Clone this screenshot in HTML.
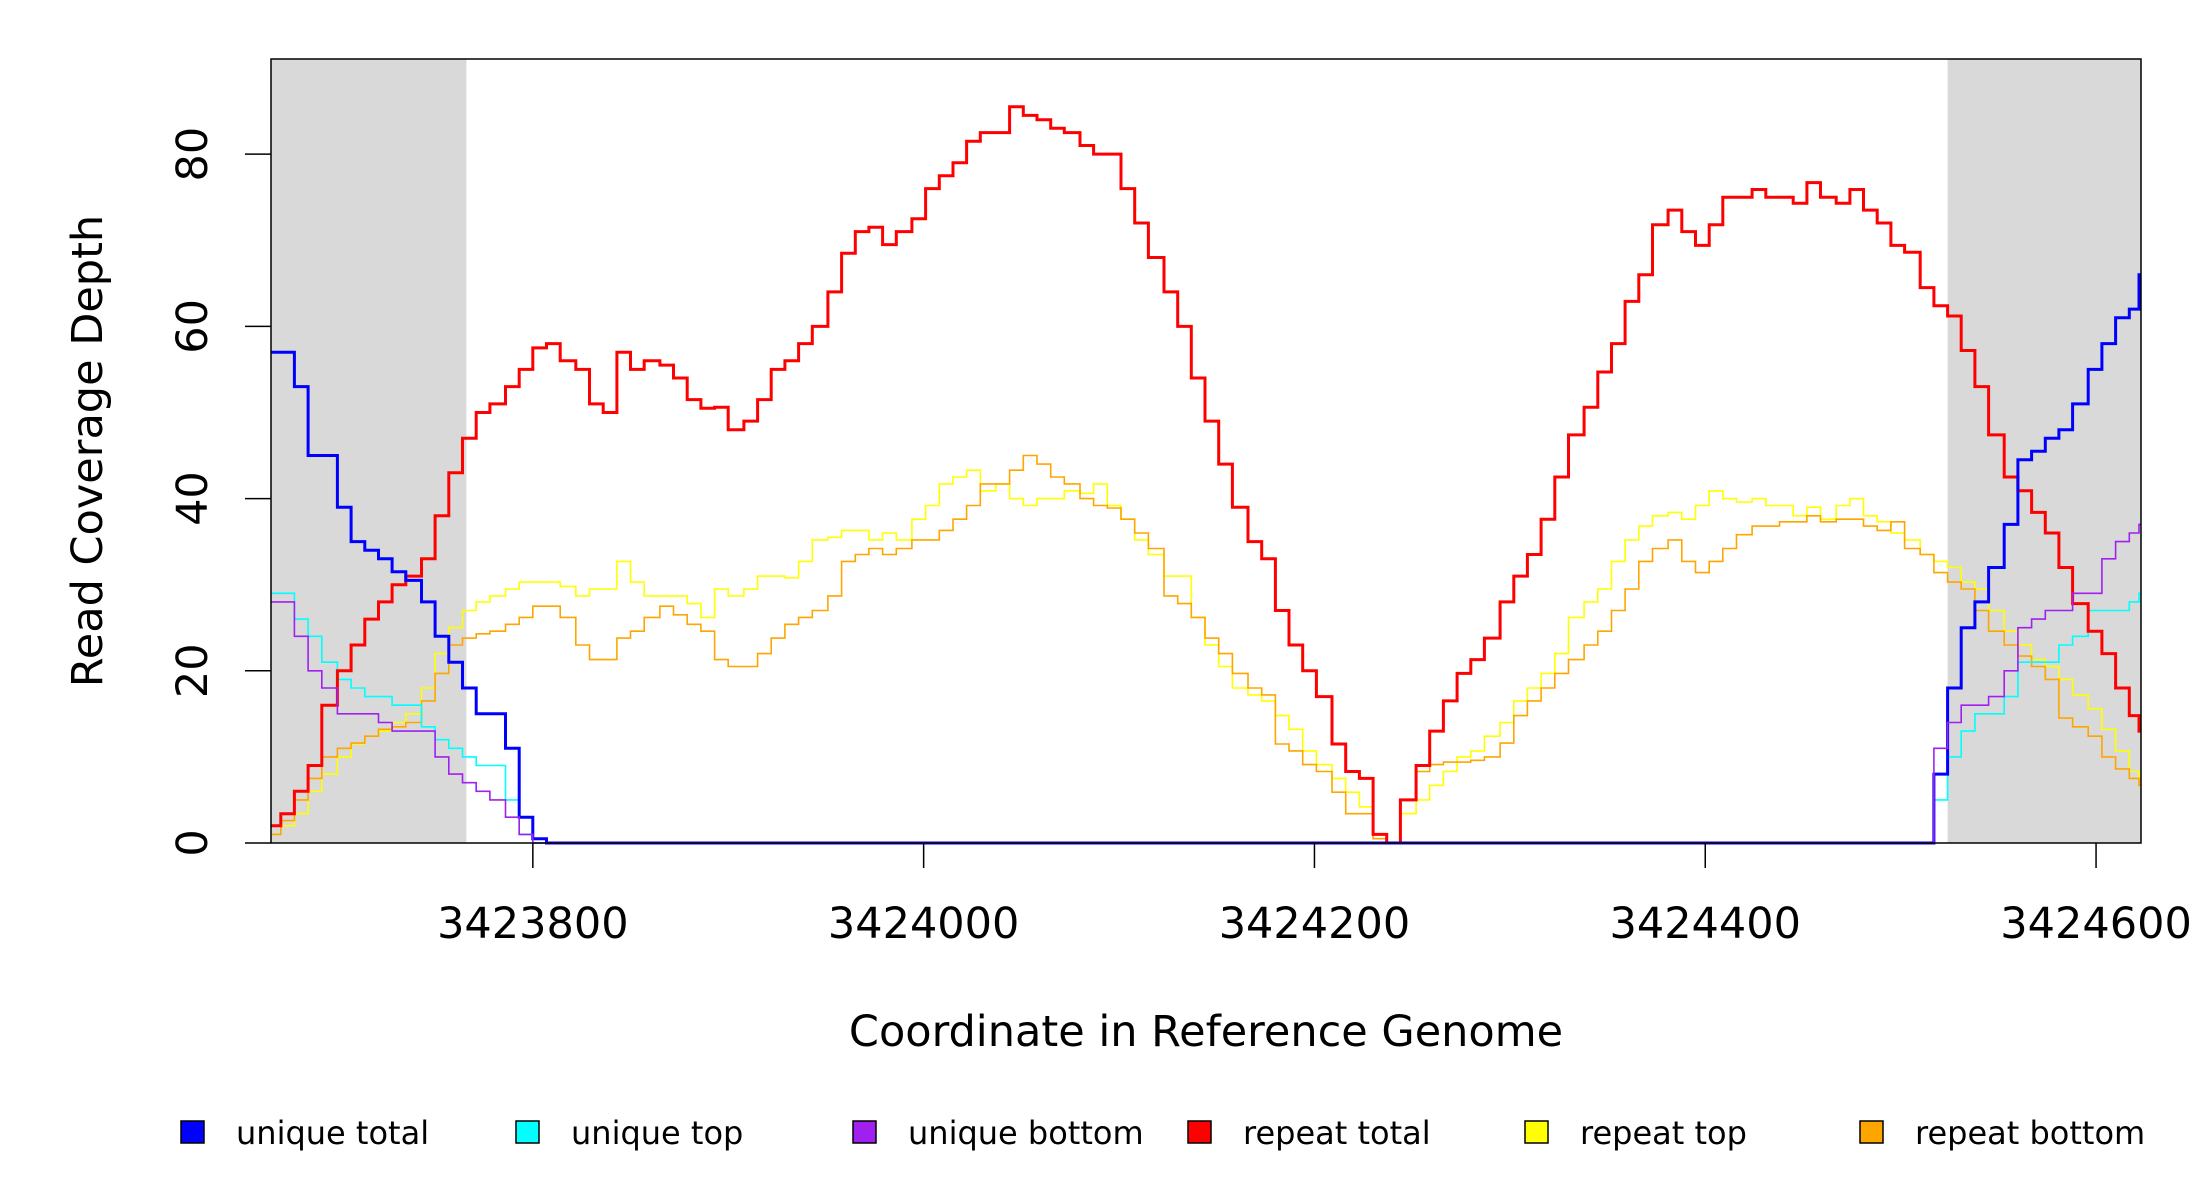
<!DOCTYPE html>
<html><head><meta charset="utf-8"><style>
html,body{margin:0;padding:0;background:#fff;}
svg{display:block;font-family:"DejaVu Sans","Liberation Sans",sans-serif;}
</style></head><body>
<svg id="chart" width="2200" height="1200" viewBox="0 0 2200 1200" xmlns="http://www.w3.org/2000/svg">
<rect width="2200" height="1200" fill="#fff"/>
<g id="shade"></g>
<g id="series"></g>
<rect x="271" y="59" width="1870" height="784" fill="none" stroke="#000" stroke-width="1.5"/>
<g id="yaxis"></g>
<g id="xaxis"></g>
<text transform="translate(102,451) rotate(-90)" text-anchor="middle" font-size="43">Read Coverage Depth</text>
<text x="1206" y="1046" text-anchor="middle" font-size="43">Coordinate in Reference Genome</text>
<g id="legend"></g>
</svg>
<script>
const pos=[3423666,3423671,3423678,3423685,3423692,3423700,3423707,3423714,3423721,3423728,3423735,3423743,3423750,3423757,3423764,3423771,3423778,3423786,3423793,3423800,
3423807,3423814,3423822,3423829,3423836,3423843,3423850,3423857,3423865,3423872,3423879,3423886,3423893,3423900,3423908,3423915,3423922,3423929,3423936,3423943,
3423951,3423958,3423965,3423972,3423979,3423986,3423994,3424001,3424008,3424015,3424022,3424029,3424037,3424044,3424051,3424058,3424065,3424072,3424080,3424087,
3424094,3424101,3424108,3424115,3424123,3424130,3424137,3424144,3424151,3424158,3424166,3424173,3424180,3424187,3424194,3424201,3424209,3424216,3424223,3424230,
3424237,3424244,3424252,3424259,3424266,3424273,3424280,3424287,3424295,3424302,3424309,3424316,3424323,3424330,3424338,3424345,3424352,3424359,3424366,3424373,
3424381,3424388,3424395,3424402,3424409,3424416,3424424,3424431,3424438,3424445,3424452,3424459,3424467,3424474,3424481,3424488,3424495,3424502,3424510,3424517,
3424524,3424531,3424538,3424545,3424553,3424560,3424567,3424574,3424581,3424588,3424596,3424603,3424610,3424617,3424622];
const repeatTotal=[2,3.4,6,9,16,20,23,26,28,30,31,33,38,43,47,50,51,53,55,57.5,
58,56,55,51,50,57,55,56,55.5,54,51.5,50.5,50.6,48,49,51.5,55,56,58,60,
64,68.5,71,71.5,69.5,71,72.5,76,77.5,79,81.5,82.5,82.5,85.5,84.5,84,83,82.5,81,80,
80,76,72,68,64,60,54,49,44,39,35,33,27,23,20,17,11.5,8.3,7.5,1,
0,5,9,13,16.5,19.7,21.3,23.8,28,31,33.5,37.6,42.5,47.4,50.6,54.7,58,62.9,66,71.8,
73.5,71,69.4,71.8,75,75,75.9,75,75,74.3,76.7,75,74.3,75.9,73.5,72,69.4,68.6,64.5,62.4,
61.2,57.2,53,47.4,42.5,40.9,38.4,36,32,27.8,24.6,22,18,14.8,13];
const repeatTop=[1,2,3.4,6,8,10,11.5,12.4,13,14,15,18,22,25,27,28,28.7,29.5,30.3,30.3,
30.3,29.8,28.7,29.5,29.5,32.7,30.3,28.7,28.7,28.7,27.8,26.2,29.5,28.7,29.5,31,31,30.8,32.7,35.2,
35.5,36.3,36.3,35.2,36,35.2,37.6,39.2,41.7,42.5,43.3,40.9,41.7,40,39.2,40,40,40.9,40.6,41.7,
39.2,37.6,35.2,33.5,31,31,26.2,23,20.5,18,17.2,16.5,14.8,13.2,10.7,9.1,7.5,5.9,4.2,0.5,
0,3.4,5,6.7,8.3,10,10.7,12.4,14,16.5,18,19.7,22,26.2,28,29.5,32.7,35.2,36.8,38,
38.4,37.6,39.2,40.9,40,39.6,40,39.2,39.2,38,39,37.6,39.2,40,38,37.3,36,35.2,33.5,32.7,
32,30.3,29.5,27,24.6,23,21.3,20.5,19,17.2,15.6,13.2,10.7,8.3,6.7];
const repeatBottom=[1,2.6,5,7.5,10,11,11.6,12.4,13.2,13.5,14,16.5,19.7,23,23.8,24.3,24.6,25.4,26.2,27.5,
27.5,26.2,23,21.3,21.3,23.8,24.6,26.2,27.5,26.5,25.4,24.6,21.3,20.5,20.5,22,23.8,25.4,26.2,27,
28.7,32.7,33.5,34.2,33.5,34.2,35.2,35.2,36.3,37.6,39.2,41.7,41.7,43.3,45,44,42.5,41.7,40,39.2,
38.9,37.6,36,34.2,28.7,27.8,26.2,23.8,22,19.7,18,17.2,11.5,10.7,9.1,8.3,5.9,3.4,3.4,0.5,
0,5,8.3,9.1,9.4,9.4,9.6,10,11.6,14.8,16.5,18,19.7,21.3,23,24.6,27,29.5,32.7,34.2,
35.2,32.7,31.4,32.7,34.2,35.8,36.8,36.8,37.3,37.3,38,37.3,37.6,37.6,36.8,36.3,37.3,34.2,33.5,31.4,
30.3,29.5,27,24.6,23,21.7,20.5,19,14.5,13.5,12.4,10,8.6,7.5,6.7];
const uniqueTotal=[57,57,53,45,45,39,35,34,33,31.5,30.5,28,24,21,18,15,15,11,3,0.5,
0,0,0,0,0,0,0,0,0,0,0,
0,0,0,0,0,0,0,0,0,0,0,
0,0,0,0,0,0,0,0,0,0,0,
0,0,0,0,0,0,0,0,0,0,0,
0,0,0,0,0,0,0,0,0,0,0,
0,0,0,0,0,0,0,0,0,0,0,
0,0,0,0,0,0,0,0,0,0,0,
0,0,0,0,0,0,0,0,0,0,0,
0,0,0,0,0,0,0,0,0,0,0,
8,18,25,28,32,37,44.5,45.5,47,48,51,55,58,61,62,66];
const uniqueTop=[29,29,26,24,21,19,18,17,17,16,16,13.5,12,11,10,9,9,5,1,0,
0,0,0,0,0,0,0,0,0,0,0,
0,0,0,0,0,0,0,0,0,0,0,
0,0,0,0,0,0,0,0,0,0,0,
0,0,0,0,0,0,0,0,0,0,0,
0,0,0,0,0,0,0,0,0,0,0,
0,0,0,0,0,0,0,0,0,0,0,
0,0,0,0,0,0,0,0,0,0,0,
0,0,0,0,0,0,0,0,0,0,0,
0,0,0,0,0,0,0,0,0,0,0,
5,10,13,15,15,17,21,21,21,23,24,27,27,27,28,29];
const uniqueBottom=[28,28,24,20,18,15,15,15,14,13,13,13,10,8,7,6,5,3,1,0,
0,0,0,0,0,0,0,0,0,0,0,
0,0,0,0,0,0,0,0,0,0,0,
0,0,0,0,0,0,0,0,0,0,0,
0,0,0,0,0,0,0,0,0,0,0,
0,0,0,0,0,0,0,0,0,0,0,
0,0,0,0,0,0,0,0,0,0,0,
0,0,0,0,0,0,0,0,0,0,0,
0,0,0,0,0,0,0,0,0,0,0,
0,0,0,0,0,0,0,0,0,0,0,
11,14,16,16,17,20,25,26,27,27,29,29,33,35,36,37];
const xTicks=[3423800,3424000,3424200,3424400,3424600];
const yTicks=[0,20,40,60,80];
const shadeRanges=[[3423666,3423766],[3424524,3424623]];
const legendLabels=["unique total","unique top","unique bottom","repeat total","repeat top","repeat bottom"];

const NS="http://www.w3.org/2000/svg";
const X0=271,X1=2141,Y0=843,Y1=59,XMIN=3423666,XMAX=3424623,YMAX=91.05;
function xs(c){return X0+(c-XMIN)*(X1-X0)/(XMAX-XMIN);}
function ys(v){return Y0-v*(Y0-Y1)/YMAX;}
function mk(tag,attrs,parent){const e=document.createElementNS(NS,tag);for(const k in attrs)e.setAttribute(k,attrs[k]);parent.appendChild(e);return e;}

const shade=document.getElementById('shade');
shadeRanges.forEach((r,i)=>{
  const e=mk('rect',{x:xs(r[0]),y:Y1,width:xs(r[1])-xs(r[0]),height:Y0-Y1,fill:'#d9d9d9'},shade);
  
  
});

const seriesDefs=[
  {vals:repeatTop,color:'#ffff00',w:1.6,name:'repeat-top-line'},
  {vals:repeatBottom,color:'#ffa500',w:1.6,name:'repeat-bottom-line'},
  {vals:uniqueTop,color:'#00ffff',w:1.6,name:'unique-top-line'},
  {vals:repeatTotal,color:'#ff0000',w:3,name:'repeat-total-line'},
  {vals:uniqueTotal,color:'#0000ff',w:3,name:'unique-total-line'},
  {vals:uniqueBottom,color:'#a020f0',w:1.6,name:'unique-bottom-line'}
];
const sg=document.getElementById('series');
seriesDefs.forEach(s=>{
  const n=Math.min(pos.length,s.vals.length);
  let d='M'+xs(pos[0]).toFixed(1)+','+ys(s.vals[0]).toFixed(1);
  for(let i=1;i<n;i++){
    d+='H'+xs(pos[i]).toFixed(1)+'V'+ys(s.vals[i]).toFixed(1);
  }
  d+='H'+xs(XMAX).toFixed(1);
  const p=mk('path',{d:d,fill:'none',stroke:s.color,'stroke-width':s.w,'stroke-linejoin':'miter'},sg);
  
  
});

const ya=document.getElementById('yaxis');
yTicks.forEach(v=>{
  const y=ys(v);
  const t=mk('line',{x1:X0-26,x2:X0,y1:y,y2:y,stroke:'#000','stroke-width':1.5},ya);
  
  
  const l=mk('text',{transform:'translate(207,'+y+') rotate(-90)','text-anchor':'middle','font-size':43},ya);
  l.textContent=v;
  
  
});
const xa=document.getElementById('xaxis');
xTicks.forEach(v=>{
  const x=xs(v);
  const t=mk('line',{x1:x,x2:x,y1:Y0,y2:Y0+25,stroke:'#000','stroke-width':1.5},xa);
  
  
  const l=mk('text',{x:x,y:938,'text-anchor':'middle','font-size':43},xa);
  l.textContent=v;
  
  
});

const lg=document.getElementById('legend');
const legendColors=['#0000ff','#00ffff','#a020f0','#ff0000','#ffff00','#ffa500'];
const legendX=[236,571,908,1243,1580,1915];
legendLabels.forEach((lab,i)=>{
  const g=mk('g',{},lg);
  
  
  mk('rect',{x:legendX[i]-55,y:1121,width:23,height:22,fill:legendColors[i],stroke:'#000','stroke-width':1.5},g);
  const t=mk('text',{x:legendX[i],y:1144,'font-size':32},g);
  t.textContent=lab;
});
</script>
</body></html>
